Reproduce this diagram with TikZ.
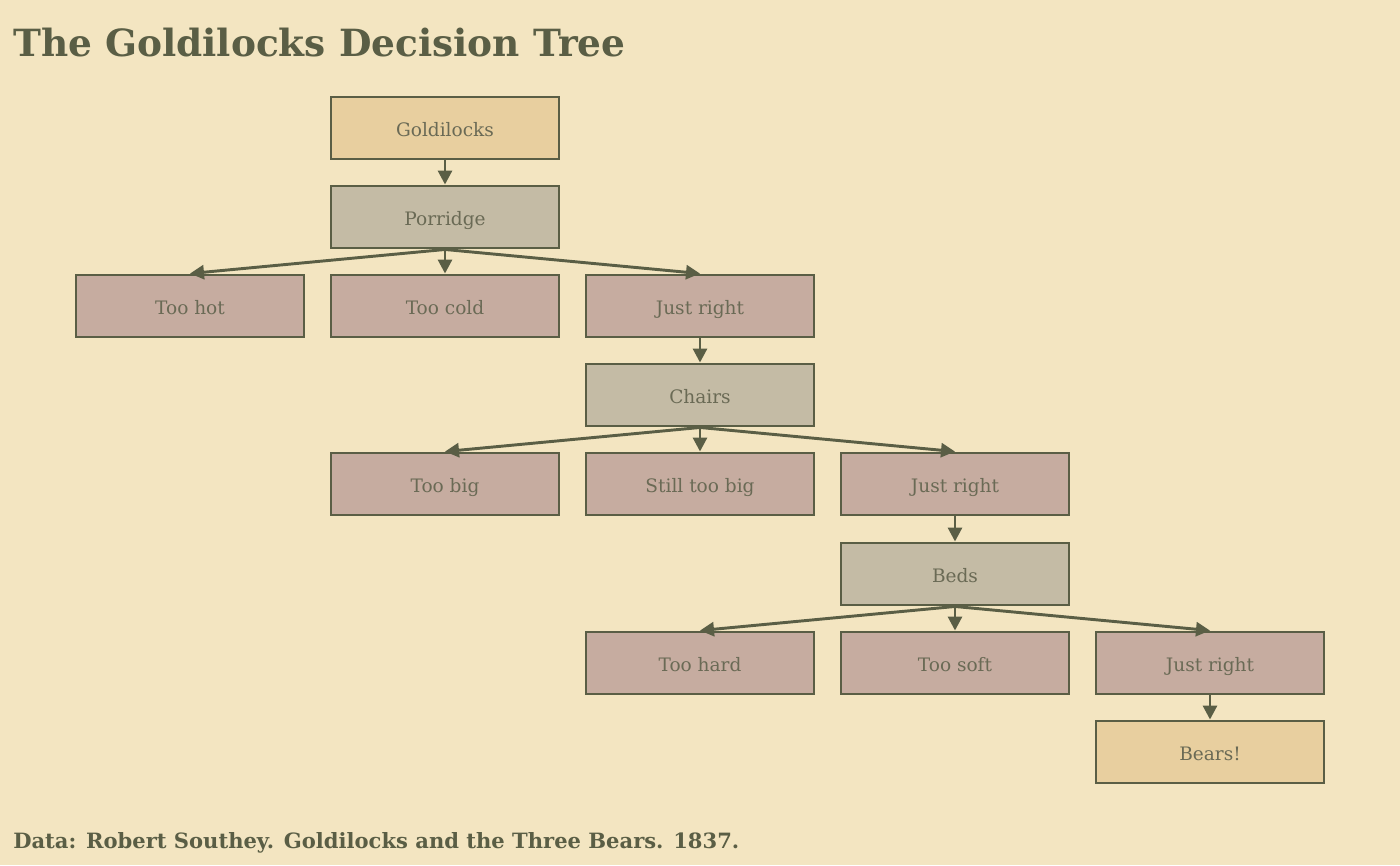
\documentclass[tikz,border=0pt]{standalone}
\usepackage{fontspec}
\setmainfont{DejaVu Serif}
\usetikzlibrary{arrows.meta, positioning}
\definecolor{bgCol}{HTML}{F3E5C1}
\definecolor{inkCol}{HTML}{5A5E45}
\definecolor{txtCol}{HTML}{6A6A55}
\definecolor{startCol}{HTML}{E8CF9F}
\definecolor{stepCol}{HTML}{C4BBA5}
\definecolor{leafCol}{HTML}{C6ACA0}
\tikzset{
    boxBase/.style={rectangle, draw=inkCol, line width=2.2pt, minimum width=171pt, minimum height=46.5pt, inner sep=0pt, text height=12pt, text depth=0pt, text=txtCol, font=\fontsize{13.9}{16}\selectfont},
    boxStart/.style={boxBase, fill=startCol},
    boxStep/.style={boxBase, fill=stepCol},
    boxLeaf/.style={boxBase, fill=leafCol},
    treeEdge/.style={-{Triangle[length=10.5pt, width=10.5pt]}, draw=inkCol, fill=inkCol, line width=2.2pt},
}
\newcommand{\drawBranch}[2]{
    \draw[treeEdge] (#1.south) -- (#2.north);
}

\begin{document}
\begin{tikzpicture}[x=0.75pt, y=-0.75pt]

    % background and margins
    \fill[bgCol] (0, 0) rectangle (1400, 865);
    \useasboundingbox (0, 0) rectangle (1400, 865);

    \node[anchor=base west, inner sep=0pt, text=inkCol, font=\fontsize{28.1}{30}\selectfont\bfseries] (title) at (13, 56) {The Goldilocks Decision Tree};

    % porridge
    \node[boxStart] (gold) at (445, 128) {Goldilocks};
    \node[boxStep] (porridge) at (445, 217) {Porridge};
    \node[boxLeaf] (hot) at (190, 306) {Too hot};
    \node[boxLeaf] (cold) at (445, 306) {Too cold};
    \node[boxLeaf] (rightP) at (700, 306) {Just right};

    % chairs
    \node[boxStep] (chairs) at (700, 395) {Chairs};
    \node[boxLeaf] (big) at (445, 484) {Too big};
    \node[boxLeaf] (stillbig) at (700, 484) {Still too big};
    \node[boxLeaf] (rightC) at (955, 484) {Just right};

    % beds
    \node[boxStep] (beds) at (955, 574) {Beds};
    \node[boxLeaf] (hard) at (700, 663) {Too hard};
    \node[boxLeaf] (soft) at (955, 663) {Too soft};
    \node[boxLeaf] (rightB) at (1210, 663) {Just right};
    \node[boxStart] (bears) at (1210, 752) {Bears!};

    \drawBranch{gold}{porridge}
    \drawBranch{porridge}{hot}
    \drawBranch{porridge}{cold}
    \drawBranch{porridge}{rightP}
    \drawBranch{rightP}{chairs}
    \drawBranch{chairs}{big}
    \drawBranch{chairs}{stillbig}
    \drawBranch{chairs}{rightC}
    \drawBranch{rightC}{beds}
    \drawBranch{beds}{hard}
    \drawBranch{beds}{soft}
    \drawBranch{beds}{rightB}
    \drawBranch{rightB}{bears}

    \node[anchor=base west, inner sep=0pt, text=inkCol, font=\fontsize{15.8}{18}\selectfont\bfseries] (source) at (13, 848) {Data: Robert Southey. Goldilocks and the Three Bears. 1837.};

\end{tikzpicture}
\end{document}
